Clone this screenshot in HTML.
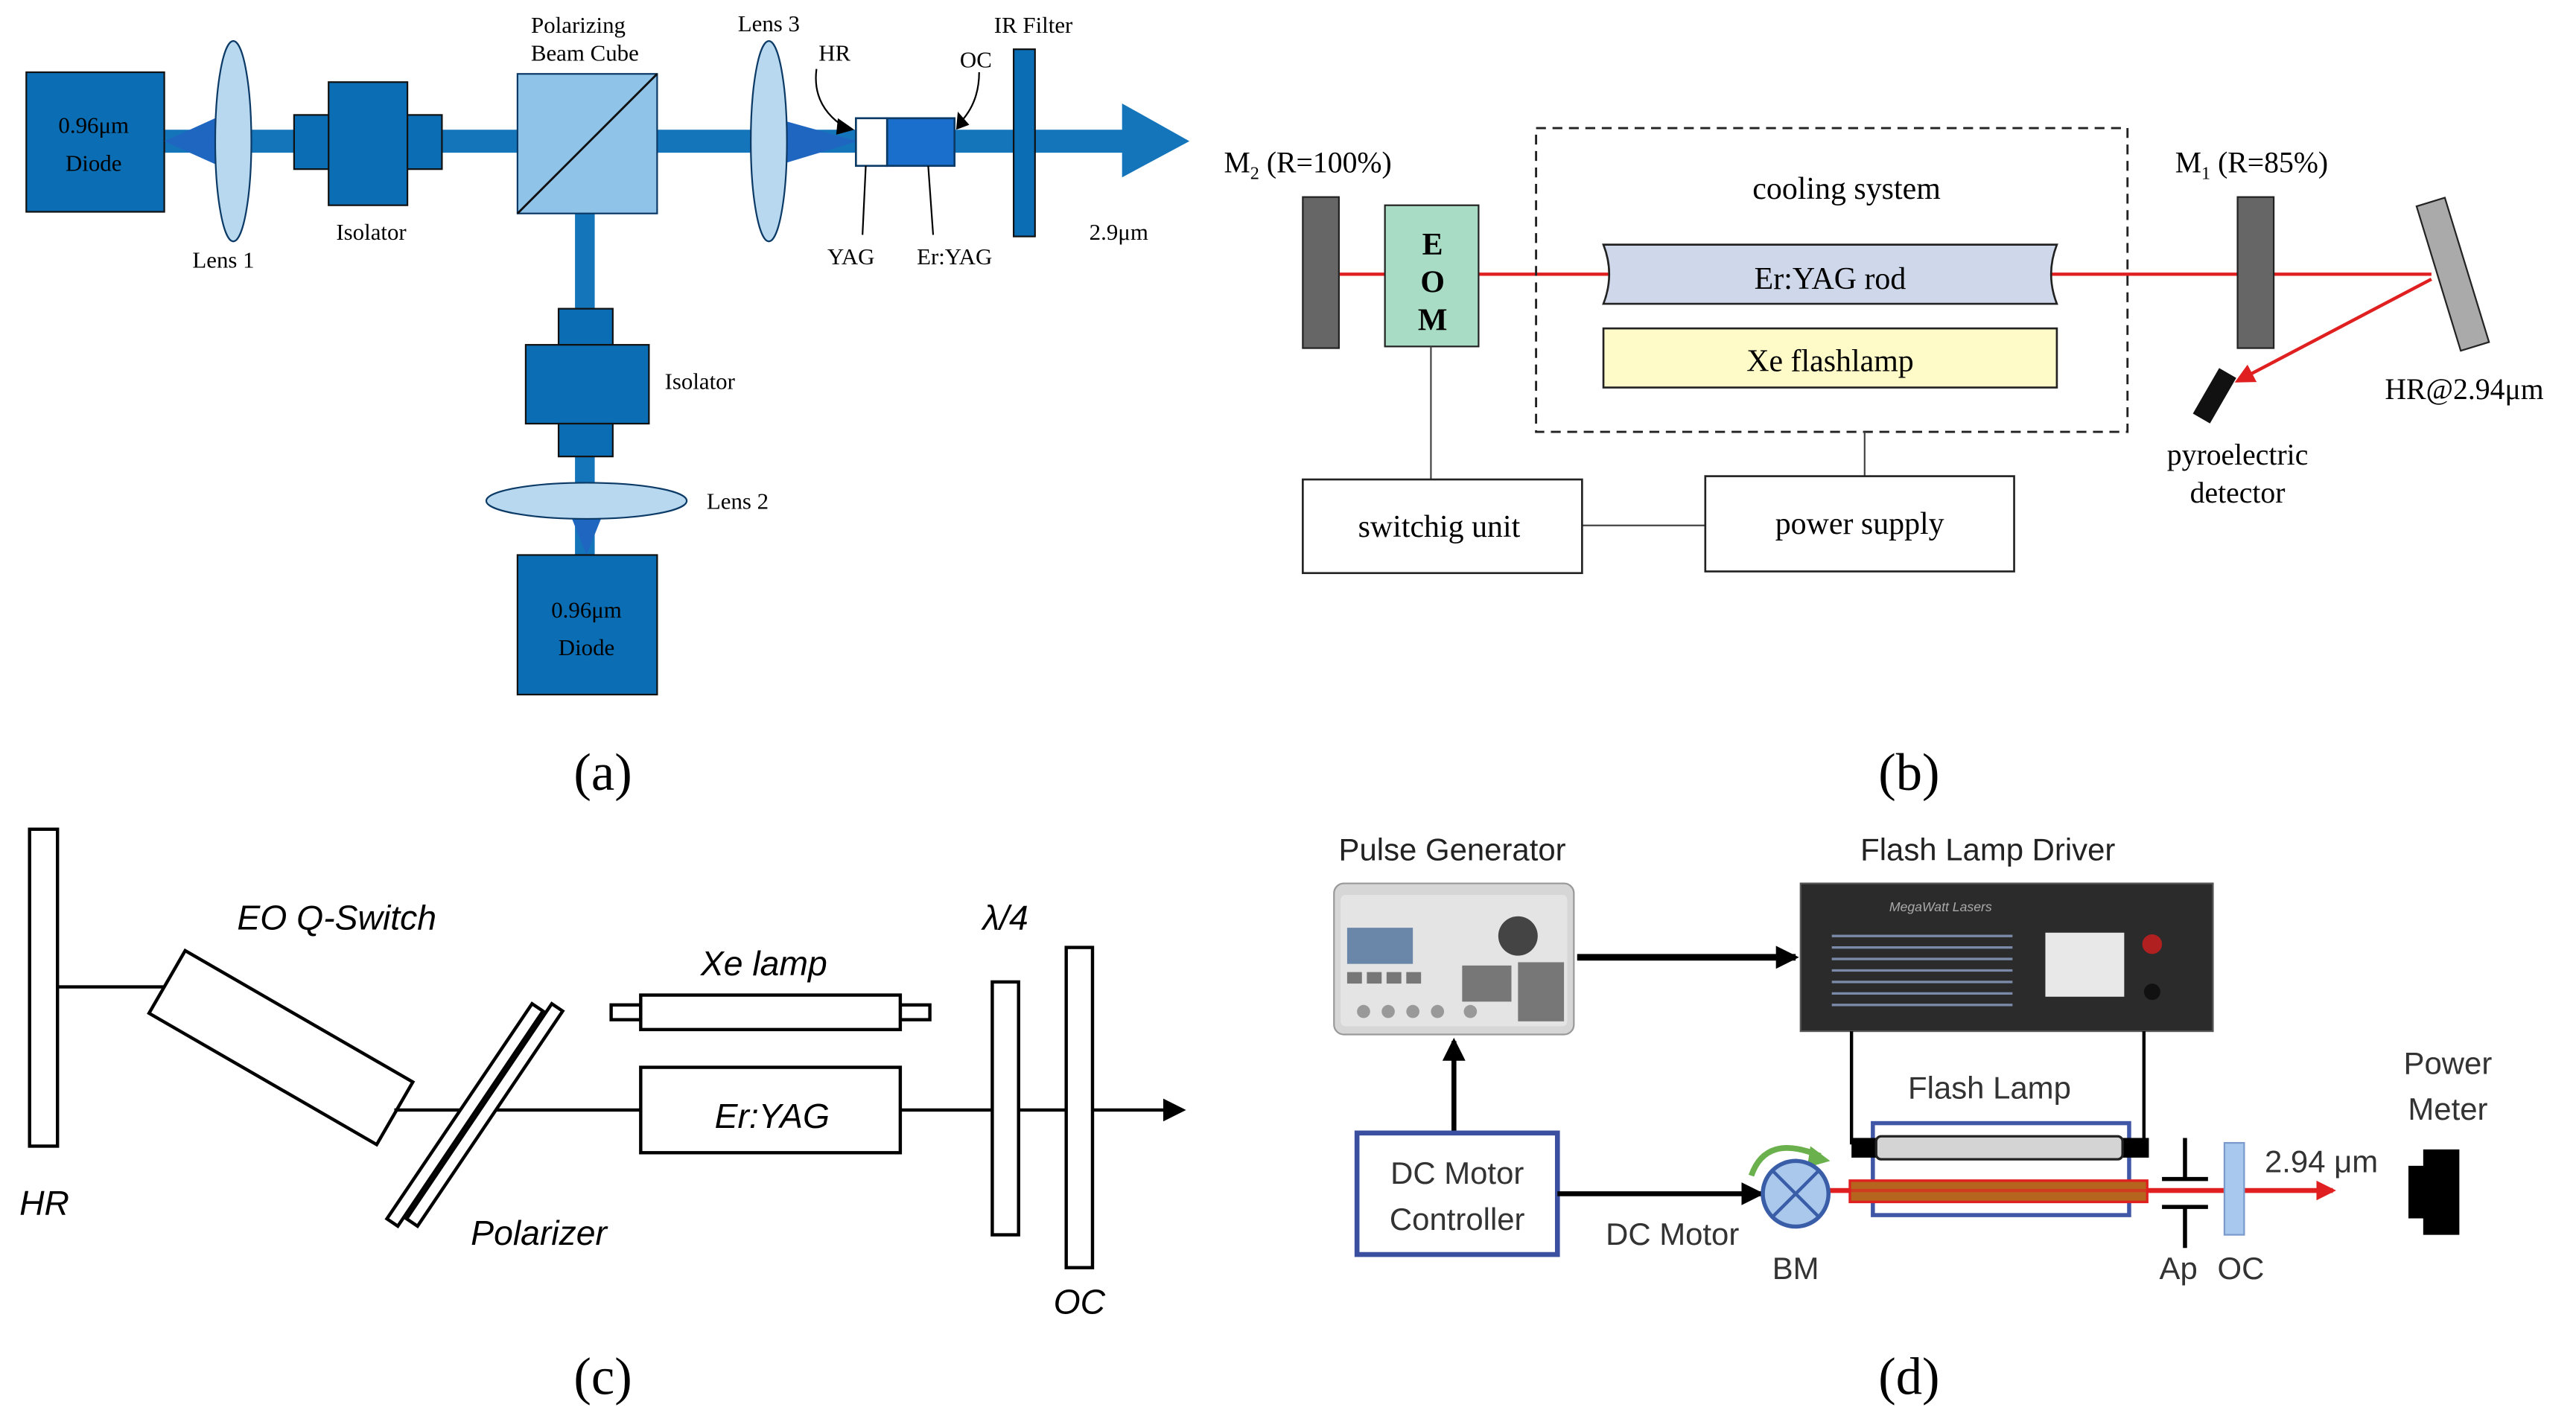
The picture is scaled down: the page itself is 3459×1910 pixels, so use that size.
<!DOCTYPE html>
<html><head><meta charset="utf-8"><style>
html,body{margin:0;padding:0;background:#fff;}
svg{display:block;}
.s{font-family:"Liberation Serif",serif;}
.a{font-family:"Liberation Sans",sans-serif;}
</style></head><body>
<svg width="3459" height="1910" viewBox="0 0 1568 866" preserveAspectRatio="none" xmlns="http://www.w3.org/2000/svg">
<defs>
<marker id="ab" markerWidth="8" markerHeight="8" refX="7" refY="4" orient="auto" markerUnits="userSpaceOnUse"><path d="M0,0 L8,4 L0,8z" fill="#000"/></marker>
<marker id="abig" markerWidth="14" markerHeight="14" refX="12" refY="7" orient="auto" markerUnits="userSpaceOnUse"><path d="M0,0 L14,7 L0,14z" fill="#000"/></marker>
<marker id="ar" markerWidth="12" markerHeight="12" refX="10" refY="6" orient="auto" markerUnits="userSpaceOnUse"><path d="M0,0 L12,6 L0,12z" fill="#e02020"/></marker>
</defs>
<rect width="1568" height="866" fill="#fff"/>

<!-- ===== (a) ===== -->
<g class="s">
<rect x="100" y="79" width="590" height="14" fill="#1475bb"/>
<polygon points="683,63 724,86 683,108" fill="#1475bb"/>
<rect x="350" y="130" width="12" height="210" fill="#1475bb"/>
<rect x="16" y="44" width="84" height="85" fill="#0b6db3" stroke="#111" stroke-width="1"/>
<text x="57" y="81" font-size="14" text-anchor="middle">0.96μm</text>
<text x="57" y="104" font-size="14" text-anchor="middle">Diode</text>
<polygon points="100,86 131,72 131,100" fill="#1f66c0"/>
<ellipse cx="142" cy="86" rx="11" ry="61" fill="#b8d8f0" stroke="#0b3a66" stroke-width="1"/>
<rect x="179" y="70" width="90" height="33" fill="#0b6db3" stroke="#111" stroke-width="1"/>
<rect x="200" y="50" width="48" height="75" fill="#0b6db3" stroke="#111" stroke-width="1"/>
<rect x="315" y="45" width="85" height="85" fill="#8fc3e8" stroke="#0b3a66" stroke-width="1"/>
<line x1="315" y1="130" x2="400" y2="45" stroke="#111" stroke-width="1.3"/>
<polygon points="479,74 522,86 479,99" fill="#1f66c0"/>
<ellipse cx="468" cy="86" rx="11" ry="61" fill="#b8d8f0" stroke="#0b3a66" stroke-width="1"/>
<rect x="521" y="72" width="19" height="29" fill="#fff" stroke="#0b3a66" stroke-width="1.2"/>
<rect x="540" y="72" width="41" height="29" fill="#1a6fcc" stroke="#0b3a66" stroke-width="1.2"/>
<rect x="617" y="30" width="13" height="114" fill="#0b6db3" stroke="#111" stroke-width="1"/>
<path d="M497,42 Q494,65 515,78" fill="none" stroke="#000" stroke-width="1"/>
<polygon points="510,72 520,79 509,82" fill="#000"/>
<path d="M596,44 Q596,62 585,74" fill="none" stroke="#000" stroke-width="1"/>
<polygon points="583,68 590,76 582,79" fill="#000"/>
<line x1="527" y1="101" x2="525" y2="143" stroke="#000" stroke-width="1"/>
<line x1="565" y1="101" x2="568" y2="143" stroke="#000" stroke-width="1"/>
<text x="352" y="20" font-size="14" text-anchor="middle">Polarizing</text>
<text x="356" y="37" font-size="14" text-anchor="middle">Beam Cube</text>
<text x="468" y="19" font-size="14" text-anchor="middle">Lens 3</text>
<text x="508" y="37" font-size="14" text-anchor="middle">HR</text>
<text x="594" y="41" font-size="14" text-anchor="middle">OC</text>
<text x="629" y="20" font-size="14" text-anchor="middle">IR Filter</text>
<text x="136" y="163" font-size="14" text-anchor="middle">Lens 1</text>
<text x="226" y="146" font-size="14" text-anchor="middle">Isolator</text>
<text x="518" y="161" font-size="14" text-anchor="middle">YAG</text>
<text x="581" y="161" font-size="14" text-anchor="middle">Er:YAG</text>
<text x="681" y="146" font-size="14" text-anchor="middle">2.9μm</text>
<rect x="340" y="188" width="33" height="22" fill="#0b6db3" stroke="#111" stroke-width="1"/>
<rect x="320" y="210" width="75" height="48" fill="#0b6db3" stroke="#111" stroke-width="1"/>
<rect x="340" y="258" width="33" height="20" fill="#0b6db3" stroke="#111" stroke-width="1"/>
<text x="426" y="237" font-size="14" text-anchor="middle">Isolator</text>
<polygon points="347,313 367,313 357,338" fill="#1f66c0"/>
<ellipse cx="357" cy="305" rx="61" ry="11" fill="#b8d8f0" stroke="#0b3a66" stroke-width="1"/>
<text x="449" y="310" font-size="14" text-anchor="middle">Lens 2</text>
<rect x="315" y="338" width="85" height="85" fill="#0b6db3" stroke="#111" stroke-width="1"/>
<text x="357" y="376" font-size="14" text-anchor="middle">0.96μm</text>
<text x="357" y="399" font-size="14" text-anchor="middle">Diode</text>
<text x="367" y="481" font-size="32" text-anchor="middle">(a)</text>
</g>

<!-- ===== (b) ===== -->
<g class="s">
<line x1="815" y1="167" x2="1480" y2="167" stroke="#e02020" stroke-width="2"/>
<rect x="793" y="120" width="22" height="92" fill="#666" stroke="#222" stroke-width="1"/>
<text x="745" y="105" font-size="18">M<tspan font-size="11" dy="4">2</tspan><tspan dy="-4"> (R=100%)</tspan></text>
<rect x="843" y="125" width="57" height="86" fill="#a8dcc4" stroke="#222" stroke-width="1"/>
<text x="872" y="155" font-size="19" font-weight="bold" text-anchor="middle">E</text>
<text x="872" y="178" font-size="19" font-weight="bold" text-anchor="middle">O</text>
<text x="872" y="201" font-size="19" font-weight="bold" text-anchor="middle">M</text>
<rect x="935" y="78" width="360" height="185" fill="none" stroke="#222" stroke-width="1.3" stroke-dasharray="6,4"/>
<text x="1124" y="121" font-size="19" text-anchor="middle">cooling system</text>
<path d="M976,149 L1252,149 Q1245,167 1252,185 L976,185 Q983,167 976,149z" fill="#cfd8ea" stroke="#222" stroke-width="1.2"/>
<text x="1114" y="176" font-size="19" text-anchor="middle">Er:YAG rod</text>
<rect x="976" y="200" width="276" height="36" fill="#fffbc8" stroke="#222" stroke-width="1.2"/>
<text x="1114" y="226" font-size="19" text-anchor="middle">Xe flashlamp</text>
<rect x="1362" y="120" width="22" height="92" fill="#666" stroke="#222" stroke-width="1"/>
<text x="1324" y="105" font-size="18">M<tspan font-size="11" dy="4">1</tspan><tspan dy="-4"> (R=85%)</tspan></text>
<rect x="1484" y="121" width="18" height="92" fill="#aaa" stroke="#222" stroke-width="1" transform="rotate(-17 1493 167)"/>
<line x1="1480" y1="170" x2="1362" y2="232" stroke="#e02020" stroke-width="2" marker-end="url(#ar)"/>
<rect x="1342" y="225" width="12" height="32" fill="#111" transform="rotate(30 1348 241)"/>
<text x="1500" y="243" font-size="18" text-anchor="middle">HR@2.94μm</text>
<text x="1362" y="283" font-size="18" text-anchor="middle">pyroelectric</text>
<text x="1362" y="306" font-size="18" text-anchor="middle">detector</text>
<line x1="871" y1="211" x2="871" y2="292" stroke="#444" stroke-width="1"/>
<line x1="1135" y1="263" x2="1135" y2="290" stroke="#444" stroke-width="1"/>
<line x1="963" y1="320" x2="1038" y2="320" stroke="#444" stroke-width="1"/>
<rect x="793" y="292" width="170" height="57" fill="#fff" stroke="#222" stroke-width="1.2"/>
<text x="876" y="327" font-size="19" text-anchor="middle">switchig unit</text>
<rect x="1038" y="290" width="188" height="58" fill="#fff" stroke="#222" stroke-width="1.2"/>
<text x="1132" y="325" font-size="19" text-anchor="middle">power supply</text>
<text x="1162" y="481" font-size="32" text-anchor="middle">(b)</text>
</g>

<!-- ===== (c) ===== -->
<g class="a" font-style="italic">
<rect x="18" y="505" width="17" height="193" fill="#fff" stroke="#000" stroke-width="2"/>
<text x="27" y="740" font-size="21" text-anchor="middle">HR</text>
<line x1="35" y1="601" x2="108" y2="601" stroke="#000" stroke-width="2"/>
<rect x="91" y="616" width="160" height="44" fill="#fff" stroke="#000" stroke-width="2" transform="rotate(30 171 638)"/>
<text x="205" y="566" font-size="21" text-anchor="middle">EO Q-Switch</text>
<line x1="240" y1="676" x2="720" y2="676" stroke="#000" stroke-width="2" marker-end="url(#abig)"/>
<rect x="279" y="600" width="8" height="158" fill="#fff" stroke="#000" stroke-width="2" transform="rotate(34 283 679)"/>
<rect x="291" y="600" width="8" height="158" fill="#fff" stroke="#000" stroke-width="2" transform="rotate(34 295 679)"/>
<text x="328" y="758" font-size="21" text-anchor="middle">Polarizer</text>
<rect x="372" y="612" width="18" height="9" fill="#fff" stroke="#000" stroke-width="2"/>
<rect x="548" y="612" width="18" height="9" fill="#fff" stroke="#000" stroke-width="2"/>
<rect x="390" y="606" width="158" height="21" fill="#fff" stroke="#000" stroke-width="2"/>
<text x="465" y="594" font-size="21" text-anchor="middle">Xe lamp</text>
<rect x="390" y="650" width="158" height="52" fill="#fff" stroke="#000" stroke-width="2"/>
<text x="470" y="687" font-size="21" text-anchor="middle">Er:YAG</text>
<rect x="604" y="598" width="16" height="154" fill="#fff" stroke="#000" stroke-width="2"/>
<text x="612" y="566" font-size="21" text-anchor="middle">λ/4</text>
<rect x="649" y="577" width="16" height="195" fill="#fff" stroke="#000" stroke-width="2"/>
<text x="657" y="800" font-size="21" text-anchor="middle">OC</text>
</g>
<text x="367" y="849" font-size="32" text-anchor="middle" class="s">(c)</text>

<!-- ===== (d) ===== -->
<g class="a">
<text x="884" y="524" font-size="19" text-anchor="middle" fill="#222">Pulse Generator</text>
<text x="1210" y="524" font-size="19" text-anchor="middle" fill="#222">Flash Lamp Driver</text>
<rect x="812" y="538" width="146" height="92" rx="6" fill="#d6d6d6" stroke="#999" stroke-width="1"/>
<rect x="816" y="545" width="138" height="80" rx="3" fill="#e4e4e4"/>
<rect x="820" y="565" width="40" height="22" fill="#6a86a8"/>
<circle cx="924" cy="570" r="12" fill="#444"/>
<g fill="#777"><rect x="820" y="592" width="9" height="7"/><rect x="832" y="592" width="9" height="7"/><rect x="844" y="592" width="9" height="7"/><rect x="856" y="592" width="9" height="7"/><rect x="890" y="588" width="30" height="22"/><rect x="924" y="586" width="28" height="36"/></g>
<g fill="#999"><circle cx="830" cy="616" r="4"/><circle cx="845" cy="616" r="4"/><circle cx="860" cy="616" r="4"/><circle cx="875" cy="616" r="4"/><circle cx="895" cy="616" r="4"/></g>
<line x1="960" y1="583" x2="1093" y2="583" stroke="#000" stroke-width="4" marker-end="url(#abig)"/>
<rect x="1096" y="538" width="251" height="90" fill="#2b2b2b" stroke="#555" stroke-width="1"/>
<g stroke="#7a8aa8" stroke-width="1.5">
<line x1="1115" y1="570" x2="1225" y2="570"/><line x1="1115" y1="577" x2="1225" y2="577"/><line x1="1115" y1="584" x2="1225" y2="584"/><line x1="1115" y1="591" x2="1225" y2="591"/><line x1="1115" y1="598" x2="1225" y2="598"/><line x1="1115" y1="605" x2="1225" y2="605"/><line x1="1115" y1="612" x2="1225" y2="612"/>
</g>
<rect x="1245" y="568" width="48" height="39" fill="#e8e8e8"/>
<circle cx="1310" cy="575" r="6" fill="#b02020"/>
<circle cx="1310" cy="604" r="5" fill="#111"/>
<text x="1150" y="555" font-size="8" fill="#aaa" font-style="italic">MegaWatt Lasers</text>
<line x1="885" y1="690" x2="885" y2="634" stroke="#000" stroke-width="3" marker-end="url(#abig)"/>
<rect x="826" y="690" width="122" height="74" fill="#fff" stroke="#3a4fa0" stroke-width="3"/>
<text x="887" y="721" font-size="19" text-anchor="middle" fill="#333">DC Motor</text>
<text x="887" y="749" font-size="19" text-anchor="middle" fill="#333">Controller</text>
<line x1="948" y1="727" x2="1072" y2="727" stroke="#000" stroke-width="3" marker-end="url(#abig)"/>
<text x="1018" y="758" font-size="19" text-anchor="middle" fill="#333">DC Motor</text>
<line x1="1112" y1="725" x2="1420" y2="725" stroke="#e02020" stroke-width="3" marker-end="url(#ar)"/>
<line x1="1127" y1="628" x2="1127" y2="697" stroke="#000" stroke-width="2"/>
<line x1="1305" y1="628" x2="1305" y2="697" stroke="#000" stroke-width="2"/>
<text x="1211" y="669" font-size="19" text-anchor="middle" fill="#333">Flash Lamp</text>
<rect x="1140" y="684" width="156" height="56" fill="none" stroke="#3f57a6" stroke-width="2.5"/>
<rect x="1127" y="693" width="16" height="12" fill="#000"/>
<rect x="1290" y="693" width="18" height="12" fill="#000"/>
<rect x="1142" y="692" width="150" height="14" rx="3" fill="#d4d4d4" stroke="#222" stroke-width="1.5"/>
<rect x="1126" y="719" width="181" height="13" fill="#b5651d" stroke="#e02020" stroke-width="1.5"/>
<line x1="1112" y1="725" x2="1420" y2="725" stroke="#e02020" stroke-width="2" opacity="0.6"/>
<path d="M1066,716 Q1075,690 1108,704" fill="none" stroke="#6ab04c" stroke-width="3.5"/>
<polygon points="1102,698 1114,707 1100,711" fill="#6ab04c"/>
<circle cx="1093" cy="727" r="20" fill="#a9c8ec" stroke="#3a5da8" stroke-width="2.5"/>
<line x1="1079" y1="713" x2="1107" y2="741" stroke="#3a5da8" stroke-width="2"/>
<line x1="1107" y1="713" x2="1079" y2="741" stroke="#3a5da8" stroke-width="2"/>
<text x="1093" y="779" font-size="19" text-anchor="middle" fill="#333">BM</text>
<line x1="1330" y1="693" x2="1330" y2="718" stroke="#000" stroke-width="2.5"/>
<line x1="1316" y1="718" x2="1344" y2="718" stroke="#000" stroke-width="2.5"/>
<line x1="1330" y1="735" x2="1330" y2="760" stroke="#000" stroke-width="2.5"/>
<line x1="1316" y1="735" x2="1344" y2="735" stroke="#000" stroke-width="2.5"/>
<text x="1326" y="779" font-size="19" text-anchor="middle" fill="#333">Ap</text>
<rect x="1354" y="696" width="12" height="56" fill="#a8c8ee" stroke="#7a9acc" stroke-width="1"/>
<text x="1364" y="779" font-size="19" text-anchor="middle" fill="#333">OC</text>
<text x="1413" y="714" font-size="19" text-anchor="middle" fill="#333">2.94 μm</text>
<text x="1490" y="654" font-size="19" text-anchor="middle" fill="#333">Power</text>
<text x="1490" y="682" font-size="19" text-anchor="middle" fill="#333">Meter</text>
<path d="M1475,700 L1497,700 L1497,752 L1475,752 L1475,742 L1466,742 L1466,710 L1475,710z" fill="#000"/>
</g>
<text x="1162" y="849" font-size="32" text-anchor="middle" class="s">(d)</text>
</svg>
</body></html>
